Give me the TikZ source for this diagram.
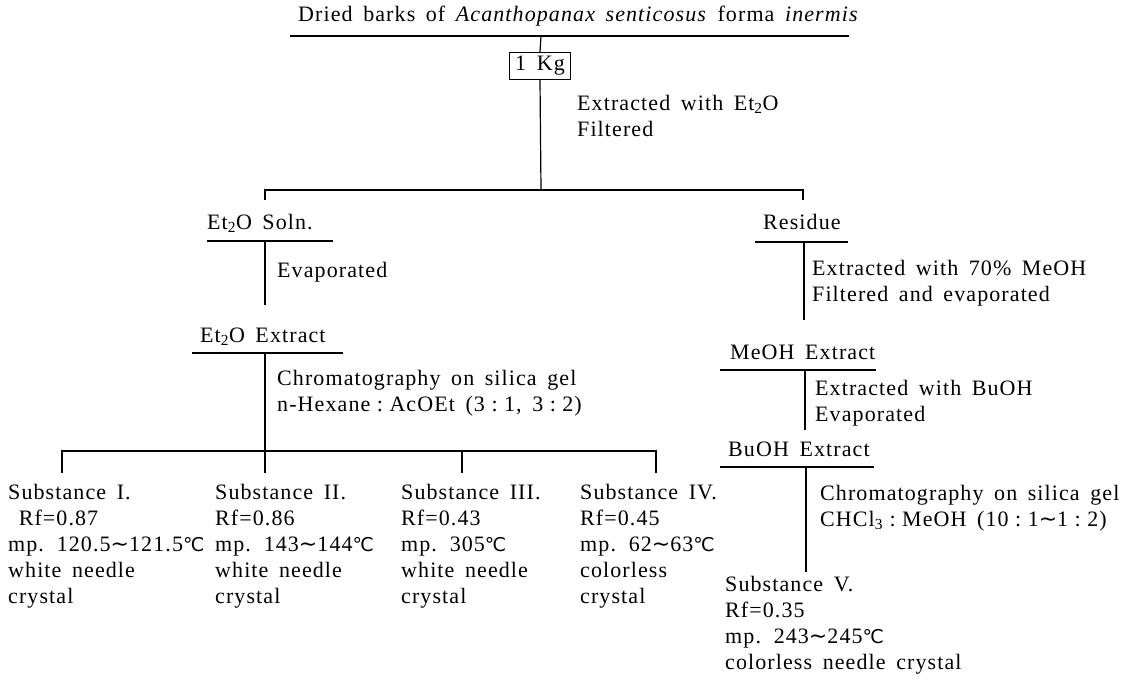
\documentclass[tikz,border=0pt]{standalone}
\usepackage{fontspec}
\setmainfont{Liberation Serif}[LetterSpace=5, WordSpace=1.6]
\newfontfamily\symfnt{DejaVu Sans}
\newcommand\mydegc{{\symfnt\fontsize{19}{26}\selectfont ℃}}
\newcommand\mytld{{\symfnt ∼}}
\newcommand\mycol{\hspace{6.5pt}:\hspace{6.5pt}}
\begin{document}
\begin{tikzpicture}[x=1pt,y=-1pt,
  txt/.style={anchor=base west, inner sep=0pt, align=left, font=\fontsize{22}{26}\selectfont},
  ln/.style={line width=1.2pt},
  boxst/.style={draw, line width=1.2pt, inner sep=0pt, minimum width=61pt, minimum height=27pt, font=\fontsize{22}{26}\selectfont}]
\useasboundingbox (0,0) rectangle (1124,685);

% title
\node[txt] (title) at (298,22) {Dried barks of \textit{Acanthopanax senticosus} forma \textit{inermis}};
\coordinate (tuL) at (290,36);
\coordinate (tuR) at (849,36);
\coordinate (tu) at (541,36);
\draw[ln] (tuL) -- (tuR);

\node[boxst] (kg) at (540,66) {1 Kg};
\draw[ln] (tu) -- (kg.north);
\coordinate (j1) at (541,190);
\draw[ln] (kg.south) -- (j1);
% multi-line nodes: base anchor = baseline of the last line
\node[txt] (step1) at (577,136) {Extracted with Et\textsubscript{2}O\\Filtered};

\coordinate (hL) at (265,190);
\coordinate (hR) at (803,190);
\coordinate (hLd) at (265,200);
\coordinate (hRd) at (803,200);
\draw[ln] (hLd) -- (hL) -- (hR) -- (hRd);

% left branch
\node[txt] (soln) at (207,229) {Et\textsubscript{2}O Soln.};
\coordinate (suL) at (207,241);
\coordinate (suR) at (333,241);
\coordinate (su) at (265,241);
\coordinate (sd) at (265,305);
\draw[ln] (suL) -- (suR);
\draw[ln] (su) -- (sd);
\node[txt] (evap) at (277,277) {Evaporated};

\node[txt] (ext) at (200,342) {Et\textsubscript{2}O Extract};
\coordinate (euL) at (192,353);
\coordinate (euR) at (343,353);
\coordinate (eu) at (265,353);
\coordinate (ed) at (265,473);
\draw[ln] (euL) -- (euR);
\draw[ln] (eu) -- (ed);
\node[txt] (chrom1) at (277,411) {Chromatography on silica gel\\n-Hexane\mycol AcOEt (3\mycol 1, 3\mycol 2)};

\coordinate (b1) at (62,451);
\coordinate (b4) at (656,451);
\coordinate (b3) at (462,451);
\coordinate (b1d) at (62,473);
\coordinate (b3d) at (462,473);
\coordinate (b4d) at (656,473);
\draw[ln] (b1d) -- (b1) -- (b4) -- (b4d);
\draw[ln] (b3) -- (b3d);

\node[txt] (s1) at (8,603) {Substance I.\\\ Rf=0.87\\mp. 120.5\mytld121.5\mydegc\\white needle\\crystal};
\node[txt] (s2) at (215,603) {Substance II.\\Rf=0.86\\mp. 143\mytld144\mydegc\\white needle\\crystal};
\node[txt] (s3) at (401,603) {Substance III.\\Rf=0.43\\mp. 305\mydegc\\white needle\\crystal};
\node[txt] (s4) at (580,603) {Substance IV.\\Rf=0.45\\mp. 62\mytld63\mydegc\\colorless\\crystal};

% right branch
\node[txt] (res) at (763,229) {Residue};
\coordinate (ruL) at (755,242);
\coordinate (ruR) at (848,242);
\coordinate (ru) at (804,242);
\coordinate (rd) at (804,320);
\draw[ln] (ruL) -- (ruR);
\draw[ln] (ru) -- (rd);
\node[txt] (step2) at (812,301) {Extracted with 70\% MeOH\\Filtered and evaporated};

\node[txt] (meoh) at (730,359) {MeOH Extract};
\coordinate (muL) at (720,370);
\coordinate (muR) at (876,370);
\coordinate (mu) at (805,370);
\coordinate (md) at (805,430);
\draw[ln] (muL) -- (muR);
\draw[ln] (mu) -- (md);
\node[txt] (step3) at (815,421) {Extracted with BuOH\\Evaporated};

\node[txt] (buoh) at (728,456) {BuOH Extract};
\coordinate (buL) at (720,467);
\coordinate (buR) at (874,467);
\coordinate (bu) at (806,467);
\coordinate (bd) at (806,572);
\draw[ln] (buL) -- (buR);
\draw[ln] (bu) -- (bd);
\node[txt] (chrom2) at (820,526) {Chromatography on silica gel\\CHCl\textsubscript{3}\mycol MeOH (10\mycol 1\mytld1\mycol 2)};

\node[txt] (s5) at (725,669) {Substance V.\\Rf=0.35\\mp. 243\mytld245\mydegc\\colorless needle crystal};
\end{tikzpicture}
\end{document}
